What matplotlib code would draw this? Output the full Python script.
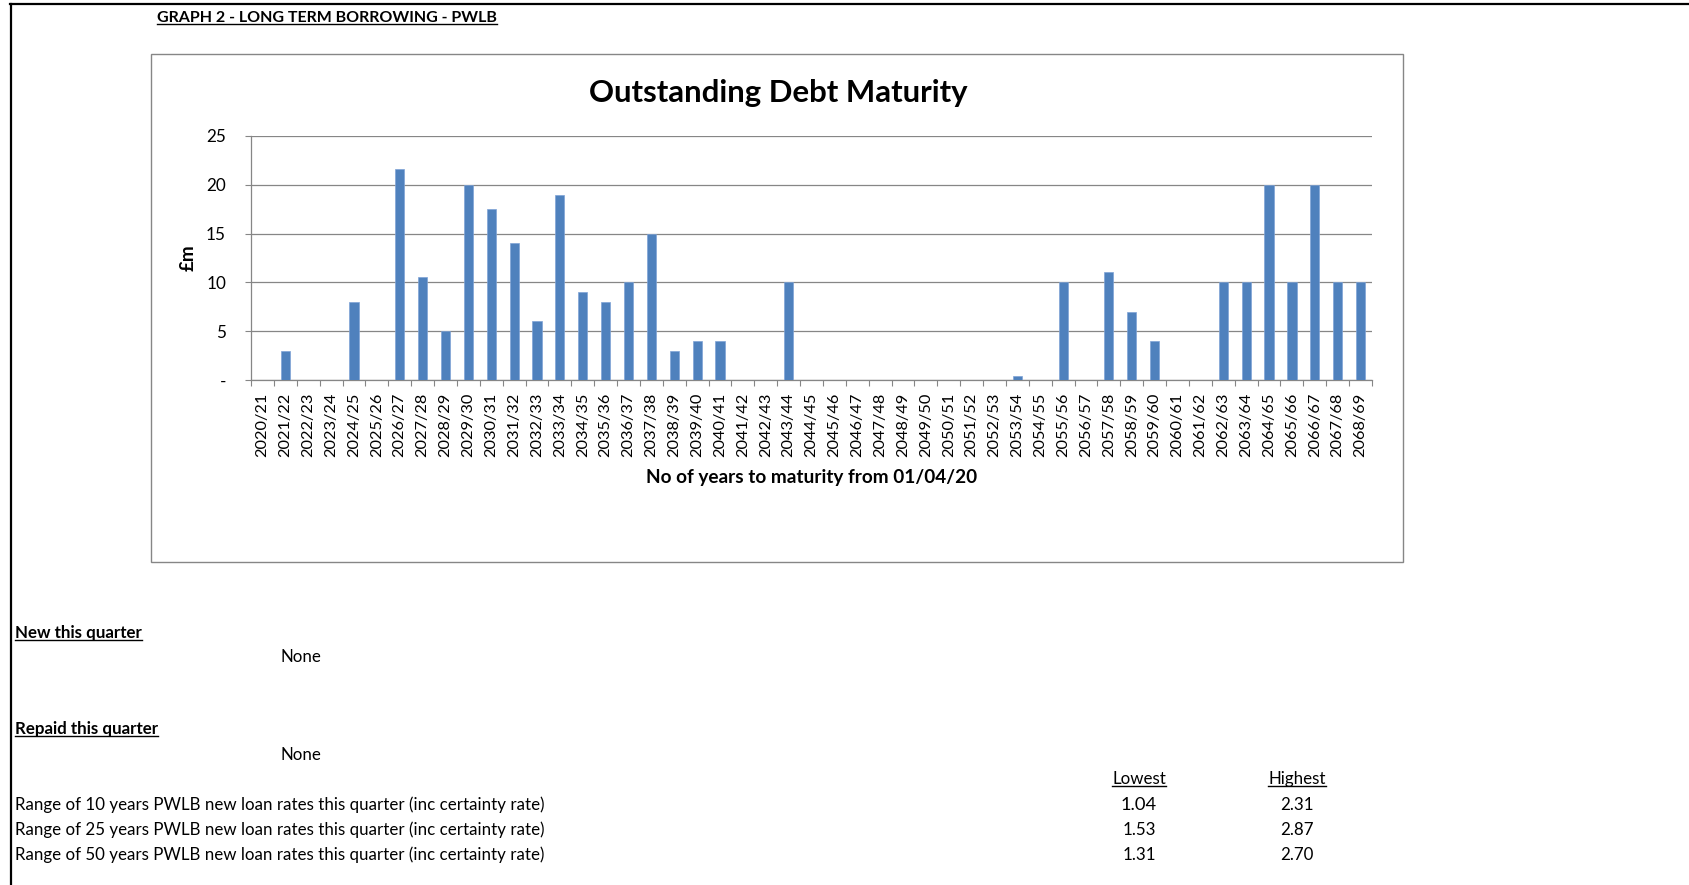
import matplotlib
matplotlib.use("Agg")
import matplotlib.pyplot as plt
from matplotlib.lines import Line2D
from matplotlib.patches import Rectangle
import numpy as np

plt.rcParams["font.family"] = ["Lato", "DejaVu Sans"]

years = [f"{y}/{str(y + 1)[-2:]}" for y in range(2020, 2069)]
debt = [
    0, 3, 0, 0, 8, 0, 21.6, 10.6, 5, 20,
    17.5, 14, 6, 19, 9, 8, 10, 15, 3, 4,
    4, 0, 0, 10, 0, 0, 0, 0, 0, 0,
    0, 0, 0, 0.4, 0, 10, 0, 11.1, 7, 4,
    0, 0, 10, 10, 20, 10, 20, 10, 10,
]
y_ticks = [0, 5, 10, 15, 20, 25]
y_tick_labels = ["-", "5", "10", "15", "20", "25"]

rate_labels = [
    "Range of 10 years PWLB new loan rates this quarter (inc certainty rate)",
    "Range of 25 years PWLB new loan rates this quarter (inc certainty rate)",
    "Range of 50 years PWLB new loan rates this quarter (inc certainty rate)",
]
lowest = ["1.04", "1.53", "1.31"]
highest = ["2.31", "2.87", "2.70"]

W, H = 1689, 885
GREY = "#868686"
BLUE = "#4F81BD"
BODY = 12.2

fig = plt.figure(figsize=(W / 100, H / 100), dpi=100)


def fx(px):
    return px / W


def fy(py):
    return 1 - py / H


# page border (top and left)
fig.add_artist(Line2D([fx(10), 1], [fy(4), fy(4)], color="black", lw=1.6))
fig.add_artist(Line2D([fx(11), fx(11)], [fy(4), 0], color="black", lw=1.6))

# chart area box
fig.add_artist(Rectangle((fx(151), fy(562)), fx(1403) - fx(151), fy(54) - fy(562),
                         fill=False, edgecolor=GREY, lw=1.0))

ax = fig.add_axes([fx(251), fy(380), fx(1372) - fx(251), fy(136) - fy(380)])
x = np.arange(len(years))
ax.bar(x, debt, width=0.4, color=BLUE, edgecolor="#7FA3D6", linewidth=0.5, zorder=3)
ax.set_xlim(-0.5, len(years) - 0.5)
ax.set_ylim(0, 25)
ax.set_yticks(y_ticks)
ax.set_yticklabels(y_tick_labels, fontsize=12.3)
ax.set_xticks(x)
ax.set_xticklabels(years, rotation=90, fontsize=11.8)
ax.set_xticks(np.arange(-0.5, len(years), 1), minor=True)
ax.tick_params(axis="x", which="major", length=0, pad=9)
ax.tick_params(axis="x", which="minor", length=4, color=GREY, width=0.8)
ax.tick_params(axis="y", length=4, color=GREY, width=0.8, pad=14)
ax.yaxis.grid(True, color=GREY, lw=0.9, zorder=0)
for s in ["top", "right"]:
    ax.spines[s].set_visible(False)
for s in ["left", "bottom"]:
    ax.spines[s].set_color(GREY)
    ax.spines[s].set_linewidth(0.9)
ax.set_facecolor("none")

fig.text(fx(778), fy(93), "Outstanding Debt Maturity", fontsize=22.4,
         fontweight="bold", ha="center", va="center")
fig.text(fx(812), fy(477), "No of years to maturity from 01/04/20", fontsize=13.7,
         fontweight="bold", ha="center", va="center")
fig.text(fx(188), fy(258), "£m", fontsize=13.5, fontweight="bold", rotation=90,
         ha="center", va="center")

underlined = []
underlined.append(fig.text(fx(157), fy(18), "GRAPH 2 - LONG TERM BORROWING - PWLB",
                           fontsize=11.5, fontweight="bold", ha="left", va="center"))
underlined.append(fig.text(fx(15), fy(633), "New this quarter", fontsize=BODY,
                           fontweight="bold", ha="left", va="center"))
underlined.append(fig.text(fx(15), fy(729), "Repaid this quarter", fontsize=BODY,
                           fontweight="bold", ha="left", va="center"))
fig.text(fx(281), fy(657), "None", fontsize=BODY, ha="left", va="center")
fig.text(fx(281), fy(755), "None", fontsize=BODY, ha="left", va="center")

underlined.append(fig.text(fx(1139), fy(779), "Lowest", fontsize=BODY,
                           ha="center", va="center"))
underlined.append(fig.text(fx(1297), fy(779), "Highest", fontsize=BODY,
                           ha="center", va="center"))
row_y = [805, 830, 855]
for i, lab in enumerate(rate_labels):
    fig.text(fx(15), fy(row_y[i]), lab, fontsize=BODY, ha="left", va="center")
    fig.text(fx(1139), fy(row_y[i]), lowest[i], fontsize=BODY + 1 if i == 0 else BODY,
             ha="center", va="center")
    fig.text(fx(1297), fy(row_y[i]), highest[i], fontsize=BODY, ha="center", va="center")

renderer = fig.canvas.get_renderer()
for t in underlined:
    bb = t.get_window_extent(renderer)
    y0 = bb.y0 + 1
    fig.add_artist(Line2D([bb.x0 / W, bb.x1 / W], [y0 / H, y0 / H],
                          color="black", lw=1.0))

fig.savefig("out.png", dpi=100)
